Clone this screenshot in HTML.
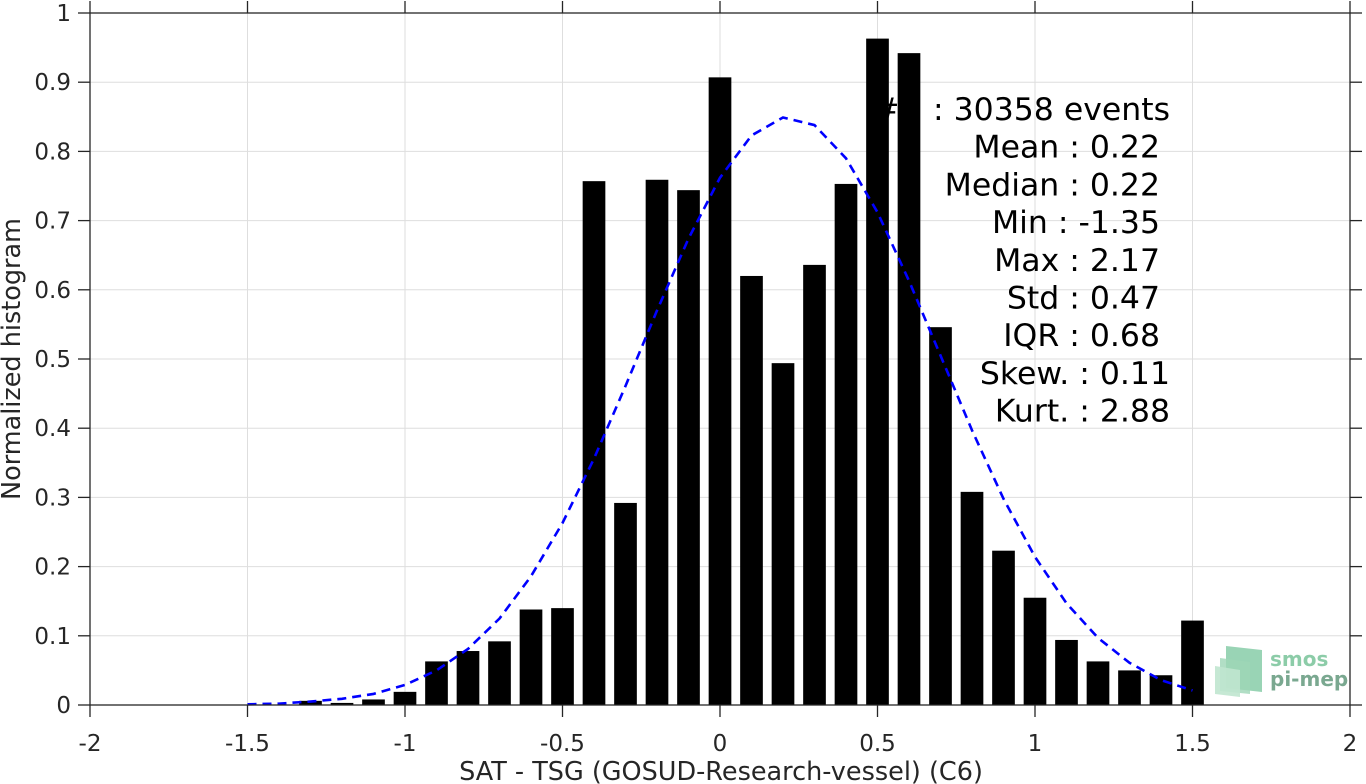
<!DOCTYPE html>
<html><head><meta charset="utf-8"><style>
html,body{margin:0;padding:0;background:#fff;}
svg{display:block;font-family:"DejaVu Sans","Liberation Sans",sans-serif;}
</style></head><body>
<svg id="chart" width="1366" height="784"></svg>
<script>
const binCenters=[-1.3,-1.2,-1.1,-1.0,-0.9,-0.8,-0.7,-0.6,-0.5,-0.4,-0.3,-0.2,-0.1,0,0.1,0.2,0.3,0.4,0.5,0.6,0.7,0.8,0.9,1.0,1.1,1.2,1.3,1.4,1.5];
const binValues=[0.006,0.003,0.008,0.019,0.063,0.078,0.092,0.138,0.14,0.757,0.292,0.759,0.744,0.907,0.62,0.494,0.636,0.753,0.963,0.942,0.546,0.308,0.223,0.155,0.094,0.063,0.05,0.043,0.122];
const fitX=[-1.5,-1.4,-1.3,-1.2,-1.1,-1.0,-0.9,-0.8,-0.7,-0.6,-0.5,-0.4,-0.3,-0.2,-0.1,0,0.1,0.2,0.3,0.4,0.5,0.6,0.7,0.8,0.9,1.0,1.1,1.2,1.3,1.4,1.5];
const fitY=[0.001,0.002,0.005,0.009,0.016,0.029,0.050,0.081,0.125,0.186,0.263,0.356,0.461,0.570,0.674,0.762,0.823,0.849,0.838,0.790,0.712,0.613,0.505,0.397,0.298,0.214,0.147,0.097,0.061,0.036,0.021];
const xTicks=[-2,-1.5,-1,-0.5,0,0.5,1,1.5,2];
const xTickLabels=["-2","-1.5","-1","-0.5","0","0.5","1","1.5","2"];
const yTicks=[0,0.1,0.2,0.3,0.4,0.5,0.6,0.7,0.8,0.9,1];
const yTickLabels=["0","0.1","0.2","0.3","0.4","0.5","0.6","0.7","0.8","0.9","1"];
const statLines=["#N : 30358 events","Mean : 0.22","Median : 0.22","Min : -1.35","Max : 2.17","Std : 0.47","IQR : 0.68","Skew. : 0.11","Kurt. : 2.88"];

const L=90,R=1350,T=13,B=705;
const sx=v=>L+(v+2)/4*(R-L);
const sy=v=>B-v*(B-T);
const NS="http://www.w3.org/2000/svg";
const svg=document.getElementById('chart');
function mk(tag,attrs,parent){const e=document.createElementNS(NS,tag);for(const k in attrs)e.setAttribute(k,attrs[k]);(parent||svg).appendChild(e);return e;}

xTicks.forEach(t=>{const g=mk('line',{x1:sx(t),x2:sx(t),y1:T,y2:B,stroke:'#dedede','stroke-width':1});

});
yTicks.forEach(t=>{const g=mk('line',{x1:L,x2:R,y1:sy(t),y2:sy(t),stroke:'#dedede','stroke-width':1});

});

statLines.forEach((s,i)=>{
  const right=(i===0||i===7||i===8)?1170:1160;
  const t=mk('text',{x:right,y:120+i*37.7,'text-anchor':'end','font-size':31.5,fill:'#000'});
  t.textContent=s;
  
  
});

const bw=0.072*(R-L)/4;
binCenters.forEach((c,i)=>{
  const r=mk('rect',{x:sx(c)-bw/2,y:sy(binValues[i]),width:bw,height:B-sy(binValues[i]),fill:'#000'});
  
  
});

const pts=fitX.map((x,i)=>sx(x)+','+sy(fitY[i])).join(' ');
const pl=mk('polyline',{points:pts,fill:'none',stroke:'#0000ff','stroke-width':2.6,'stroke-dasharray':'9,6'});



const box=mk('rect',{x:L,y:T,width:R-L,height:B-T,fill:'none',stroke:'#262626','stroke-width':1.3});



xTicks.forEach((t,i)=>{
  mk('line',{x1:sx(t),x2:sx(t),y1:B,y2:B+12,stroke:'#262626','stroke-width':1.3});
  mk('line',{x1:sx(t),x2:sx(t),y1:T,y2:T-12,stroke:'#262626','stroke-width':1.3});
  const lb=mk('text',{x:sx(t),y:B+46,'text-anchor':'middle','font-size':23,fill:'#262626'});
  lb.textContent=xTickLabels[i];
  
  
});
yTicks.forEach((t,i)=>{
  mk('line',{x1:L,x2:L-12,y1:sy(t),y2:sy(t),stroke:'#262626','stroke-width':1.3});
  mk('line',{x1:R,x2:R+12,y1:sy(t),y2:sy(t),stroke:'#262626','stroke-width':1.3});
  const lb=mk('text',{x:71,y:sy(t)+8,'text-anchor':'end','font-size':23,fill:'#262626'});
  lb.textContent=yTickLabels[i];
  
  
});

const xt=mk('text',{x:721,y:780,'text-anchor':'middle','font-size':25.5,fill:'#262626'});
xt.textContent="SAT - TSG (GOSUD-Research-vessel) (C6)";


const yt=mk('text',{x:0,y:0,'text-anchor':'middle','font-size':25.5,fill:'#262626',transform:'translate(20,359) rotate(-90)'});
yt.textContent="Normalized histogram";



const lg=mk('g',{});


mk('polygon',{points:'1226,646 1262,650 1262,692 1226,688',fill:'#7fc9a3',opacity:0.8},lg);
mk('polygon',{points:'1220,658 1250,662 1250,694 1220,691',fill:'#9ed6b6',opacity:0.8},lg);
mk('polygon',{points:'1215,666 1240,670 1240,697 1215,694',fill:'#c0e5cf',opacity:0.9},lg);
const l1=mk('text',{x:1270,y:666,'font-size':20,'font-weight':'bold',fill:'#8ccca8'},lg);l1.textContent='smos';
const l2=mk('text',{x:1270,y:686,'font-size':20,'font-weight':'bold',fill:'#7aa890'},lg);l2.textContent='pi-mep';
</script>
</body></html>
